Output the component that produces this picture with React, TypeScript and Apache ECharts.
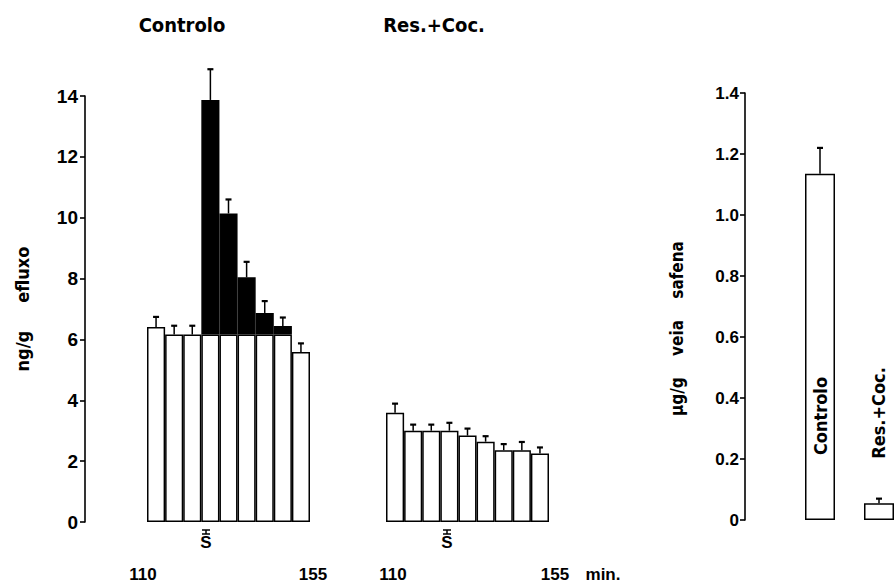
import React, { useEffect, useRef } from "react";
import * as echarts from "echarts";

// ---- data ----
const timeLabels = ["110", "", "", "", "", "", "", "", "155"];
const leftWhite = [6.41, 6.16, 6.16, 6.16, 6.16, 6.16, 6.16, 6.16, 5.59];
const leftBlackTop = [null, null, null, 13.87, 10.14, 8.04, 6.87, 6.44, null];
const leftErr = [6.74, 6.45, 6.45, 14.88, 10.6, 8.55, 7.26, 6.72, 5.87];
const midValues = [3.59, 3.0, 3.0, 3.0, 2.84, 2.64, 2.36, 2.36, 2.25];
const midErr = [3.89, 3.2, 3.2, 3.26, 3.07, 2.82, 2.56, 2.63, 2.45];
const rightCats = ["Controlo", "Res.+Coc."];
const rightValues = [1.135, 0.055];
const rightErr = [1.22, 0.07];

const BOLD_COND = '"DejaVu Sans Condensed", "Liberation Sans Narrow", "DejaVu Sans", sans-serif';
const NUM_FONT = '"Liberation Sans", Arial, sans-serif';

const errRender = (params: any, api: any) => {
  const x = api.value(0);
  const lo = api.value(1);
  const hi = api.value(2);
  const p0 = api.coord([x, lo]);
  const p1 = api.coord([x, hi]);
  return {
    type: "group",
    children: [
      { type: "line", shape: { x1: p0[0], y1: p0[1], x2: p1[0], y2: p1[1] }, style: { stroke: "#000", lineWidth: 1.5 } },
      { type: "line", shape: { x1: p1[0] - 3, y1: p1[1], x2: p1[0] + 3, y2: p1[1] }, style: { stroke: "#000", lineWidth: 2.2 } },
    ],
  };
};

const sBar = (cx: number, top: number) => ({
  type: "group",
  z: 100,
  children: [
    { type: "line", shape: { x1: cx - 4, y1: top, x2: cx + 4, y2: top }, style: { stroke: "#000", lineWidth: 1.5 } },
    { type: "line", shape: { x1: cx, y1: top, x2: cx, y2: top + 4 }, style: { stroke: "#000", lineWidth: 1.5 } },
    { type: "line", shape: { x1: cx - 4, y1: top + 4, x2: cx + 4, y2: top + 4 }, style: { stroke: "#000", lineWidth: 1.5 } },
    { type: "text", x: cx, y: top + 12, style: { text: "S", font: `bold 17px ${NUM_FONT}`, fill: "#000", align: "center", verticalAlign: "middle" } },
  ],
});

const axisLineStyle = { color: "#000", width: 1.6 };

export default function App() {
  const ref = useRef<HTMLDivElement>(null);
  useEffect(() => {
    const chart = echarts.init(ref.current as HTMLDivElement, null, { renderer: "svg" });
    const leftTop = leftWhite.map((w, i) => (leftBlackTop[i] == null ? w : (leftBlackTop[i] as number)));
    const timeData = (shiftFirst: number, shiftLast: number) =>
      timeLabels.map((t, i) => {
        if (i === 0) return { value: t, textStyle: { padding: shiftFirst < 0 ? [0, -2 * shiftFirst, 0, 0] : [0, 0, 0, 2 * shiftFirst] } };
        if (i === timeLabels.length - 1)
          return { value: t, textStyle: { padding: shiftLast < 0 ? [0, -2 * shiftLast, 0, 0] : [0, 0, 0, 2 * shiftLast] } };
        return { value: t };
      });
    const xLabelStyle = { color: "#000", fontSize: 17, fontFamily: NUM_FONT, fontWeight: "bold", margin: 44, interval: 0 };
    const option: any = {
      animation: false,
      backgroundColor: "#fff",
      grid: [
        { left: 147, top: 96, width: 163, height: 426 },
        { left: 386, top: 96, width: 163, height: 426 },
        { left: 820, top: 93, width: 59, height: 427 },
      ],
      xAxis: [
        { gridIndex: 0, type: "category", data: timeData(-13, 12), axisLine: { show: false }, axisTick: { show: false }, axisLabel: xLabelStyle },
        { gridIndex: 1, type: "category", data: timeData(-2, 15), axisLine: { show: false }, axisTick: { show: false }, axisLabel: xLabelStyle },
        {
          gridIndex: 2, type: "category", boundaryGap: false, data: rightCats,
          axisLine: { show: false }, axisTick: { show: false }, axisLabel: { show: false },
        },
      ],
      yAxis: [
        {
          gridIndex: 0, type: "value", min: 0, max: 14, interval: 2, offset: 62,
          axisLine: { show: true, lineStyle: axisLineStyle },
          axisTick: { show: true, length: 5, lineStyle: axisLineStyle },
          splitLine: { show: false },
          axisLabel: { color: "#000", fontSize: 19, fontWeight: "bold", fontFamily: NUM_FONT, margin: 7 },
          name: "ng/g     efluxo", nameLocation: "middle", nameRotate: 90, nameGap: 54,
          nameTextStyle: { color: "#000", fontSize: 18, fontWeight: "bold", fontFamily: BOLD_COND },
        },
        { gridIndex: 1, type: "value", min: 0, max: 14, interval: 2, show: false },
        {
          gridIndex: 2, type: "value", min: 0, max: 1.4, interval: 0.2, offset: 75,
          axisLine: { show: true, lineStyle: axisLineStyle },
          axisTick: { show: true, length: 5, lineStyle: axisLineStyle },
          splitLine: { show: false },
          axisLabel: {
            color: "#000", fontSize: 17, fontWeight: "bold", fontFamily: NUM_FONT, margin: 6,
            formatter: (v: number) => (v === 0 ? "0" : v.toFixed(1)),
          },
          name: "\u00b5g/g    veia    safena", nameLocation: "middle", nameRotate: 90, nameGap: 60,
          nameTextStyle: { color: "#000", fontSize: 17, fontWeight: "bold", fontFamily: BOLD_COND, padding: [0, 44, 0, 0] },
        },
      ],
      series: [
        {
          type: "bar", xAxisIndex: 0, yAxisIndex: 0, stack: "L", data: leftWhite, barCategoryGap: "0%",
          itemStyle: { color: "#fff", borderColor: "#000", borderWidth: 1.5 },
        },
        {
          type: "bar", xAxisIndex: 0, yAxisIndex: 0, stack: "L",
          data: leftBlackTop.map((v, i) => (v == null ? "-" : +(v - leftWhite[i]).toFixed(3))),
          barCategoryGap: "0%",
          itemStyle: { color: "#000", borderColor: "#000", borderWidth: 1.5 },
        },
        {
          type: "custom", xAxisIndex: 0, yAxisIndex: 0, renderItem: errRender, z: 5,
          data: leftErr.map((e, i) => [i, leftTop[i], e]),
        },
        {
          type: "bar", xAxisIndex: 1, yAxisIndex: 1, data: midValues, barCategoryGap: "0%",
          itemStyle: { color: "#fff", borderColor: "#000", borderWidth: 1.5 },
        },
        {
          type: "custom", xAxisIndex: 1, yAxisIndex: 1, renderItem: errRender, z: 5,
          data: midErr.map((e, i) => [i, midValues[i], e]),
        },
        {
          type: "bar", xAxisIndex: 2, yAxisIndex: 2, data: rightValues, barWidth: 30, clip: false,
          itemStyle: { color: "#fff", borderColor: "#000", borderWidth: 1.5 },
        },
        {
          type: "custom", xAxisIndex: 2, yAxisIndex: 2, renderItem: errRender, z: 5, clip: false,
          data: rightErr.map((e, i) => [i, rightValues[i], e]),
        },
      ],
      graphic: [
        { type: "text", z: 100, x: 182, y: 25, style: { text: "Controlo", font: `bold 20px ${BOLD_COND}`, fill: "#000", align: "center", verticalAlign: "middle" } },
        { type: "text", z: 100, x: 434, y: 25, style: { text: "Res.+Coc.", font: `bold 20px ${BOLD_COND}`, fill: "#000", align: "center", verticalAlign: "middle" } },
        { type: "text", z: 100, x: 820, y: 416, rotation: Math.PI / 2, style: { text: rightCats[0], font: `bold 18px ${BOLD_COND}`, fill: "#000", align: "center", verticalAlign: "middle" } },
        { type: "text", z: 100, x: 878, y: 413, rotation: Math.PI / 2, style: { text: rightCats[1], font: `bold 18px ${BOLD_COND}`, fill: "#000", align: "center", verticalAlign: "middle" } },
        { type: "text", z: 100, x: 603, y: 574, style: { text: "min.", font: `bold 17px ${NUM_FONT}`, fill: "#000", align: "center", verticalAlign: "middle" } },
        sBar(206, 530),
        sBar(447, 530),
      ],
    };
    chart.setOption(option);
    return () => chart.dispose();
  }, []);
  return <div ref={ref} style={{ position: "fixed", left: 0, top: 0, width: 895, height: 584, background: "#fff" }} />;
}
